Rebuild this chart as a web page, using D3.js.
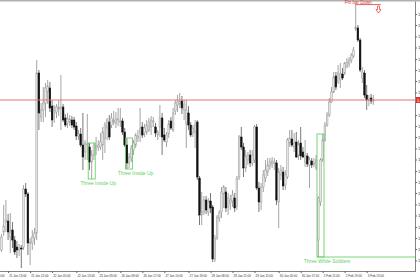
<!DOCTYPE html>
<html>
<head>
<meta charset="utf-8">
<script src="https://cdn.jsdelivr.net/npm/d3@7"></script>
<style>
  html, body { margin: 0; padding: 0; background: #fff; }
  svg { display: block; font-family: "Liberation Sans", Arial, sans-serif; }
</style>
</head>
<body>
<svg id="root" width="420" height="280"></svg>
<script>
"use strict";

// bars, oldest first: [open, high, low, close]
const bars = [
  [1.1100, 1.1132, 1.1096, 1.1126], [1.1136, 1.1190, 1.1128, 1.1148], [1.1156, 1.1200, 1.1136, 1.1160],
  [1.1158, 1.1172, 1.1120, 1.1136], [1.1126, 1.1174, 1.1094, 1.1136], [1.1140, 1.1156, 1.1104, 1.1120],
  [1.1120, 1.1128, 1.1090, 1.1096], [1.1106, 1.1118, 1.1084, 1.1100], [1.1100, 1.1112, 1.1088, 1.1104],
  [1.1104, 1.1110, 1.1064, 1.1102], [1.1106, 1.1230, 1.1100, 1.1222], [1.1222, 1.1234, 1.1206, 1.1212],
  [1.1212, 1.1216, 1.1090, 1.1114], [1.1114, 1.1124, 1.1070, 1.1116], [1.1114, 1.1140, 1.1100, 1.1126],
  [1.1124, 1.1144, 1.1110, 1.1134], [1.1134, 1.1480, 1.1120, 1.1454], [1.1454, 1.1460, 1.1340, 1.1374],
  [1.1366, 1.1394, 1.1356, 1.1380], [1.1380, 1.1426, 1.1356, 1.1394], [1.1394, 1.1434, 1.1366, 1.1424],
  [1.1416, 1.1440, 1.1392, 1.1428], [1.1424, 1.1436, 1.1376, 1.1384], [1.1388, 1.1400, 1.1346, 1.1360],
  [1.1374, 1.1390, 1.1354, 1.1378], [1.1376, 1.1392, 1.1364, 1.1386], [1.1382, 1.1400, 1.1368, 1.1386],
  [1.1382, 1.1450, 1.1340, 1.1386], [1.1386, 1.1392, 1.1356, 1.1360], [1.1364, 1.1372, 1.1346, 1.1350],
  [1.1354, 1.1374, 1.1344, 1.1362], [1.1356, 1.1370, 1.1348, 1.1362], [1.1360, 1.1368, 1.1344, 1.1350],
  [1.1360, 1.1366, 1.1340, 1.1346], [1.1348, 1.1356, 1.1320, 1.1328], [1.1328, 1.1340, 1.1320, 1.1332],
  [1.1332, 1.1344, 1.1306, 1.1310], [1.1310, 1.1374, 1.1260, 1.1286], [1.1296, 1.1320, 1.1280, 1.1314],
  [1.1310, 1.1372, 1.1280, 1.1312], [1.1306, 1.1314, 1.1260, 1.1276], [1.1276, 1.1300, 1.1242, 1.1290],
  [1.1290, 1.1314, 1.1280, 1.1310], [1.1304, 1.1326, 1.1290, 1.1308], [1.1306, 1.1320, 1.1298, 1.1310],
  [1.1306, 1.1334, 1.1300, 1.1316], [1.1310, 1.1346, 1.1280, 1.1336], [1.1324, 1.1356, 1.1294, 1.1350],
  [1.1344, 1.1364, 1.1320, 1.1360], [1.1356, 1.1370, 1.1320, 1.1326], [1.1350, 1.1374, 1.1344, 1.1364],
  [1.1356, 1.1378, 1.1350, 1.1360], [1.1354, 1.1376, 1.1344, 1.1362], [1.1360, 1.1384, 1.1348, 1.1362],
  [1.1356, 1.1384, 1.1346, 1.1358], [1.1358, 1.1364, 1.1330, 1.1336], [1.1336, 1.1344, 1.1306, 1.1310],
  [1.1310, 1.1324, 1.1262, 1.1274], [1.1274, 1.1294, 1.1264, 1.1286], [1.1284, 1.1310, 1.1276, 1.1304],
  [1.1300, 1.1320, 1.1290, 1.1314], [1.1310, 1.1334, 1.1304, 1.1330], [1.1324, 1.1340, 1.1316, 1.1328],
  [1.1334, 1.1384, 1.1316, 1.1344], [1.1346, 1.1356, 1.1324, 1.1330], [1.1334, 1.1352, 1.1326, 1.1344],
  [1.1336, 1.1360, 1.1330, 1.1350], [1.1340, 1.1364, 1.1336, 1.1356], [1.1346, 1.1368, 1.1330, 1.1360],
  [1.1356, 1.1366, 1.1346, 1.1358], [1.1346, 1.1354, 1.1326, 1.1334], [1.1330, 1.1340, 1.1320, 1.1336],
  [1.1346, 1.1390, 1.1326, 1.1364], [1.1364, 1.1374, 1.1290, 1.1326], [1.1330, 1.1344, 1.1316, 1.1320],
  [1.1316, 1.1336, 1.1306, 1.1330], [1.1332, 1.1360, 1.1324, 1.1352], [1.1358, 1.1366, 1.1340, 1.1344],
  [1.1340, 1.1384, 1.1336, 1.1374], [1.1378, 1.1400, 1.1370, 1.1394], [1.1390, 1.1410, 1.1376, 1.1396],
  [1.1392, 1.1414, 1.1384, 1.1398], [1.1398, 1.1408, 1.1372, 1.1384], [1.1380, 1.1400, 1.1360, 1.1392],
  [1.1354, 1.1400, 1.1304, 1.1380], [1.1374, 1.1388, 1.1340, 1.1350], [1.1350, 1.1356, 1.1326, 1.1330],
  [1.1334, 1.1350, 1.1326, 1.1344], [1.1336, 1.1360, 1.1304, 1.1350], [1.1356, 1.1360, 1.1240, 1.1246],
  [1.1244, 1.1248, 1.1150, 1.1170], [1.1170, 1.1216, 1.1150, 1.1176], [1.1176, 1.1208, 1.1170, 1.1200],
  [1.1200, 1.1208, 1.1172, 1.1180], [1.1176, 1.1204, 1.1168, 1.1196], [1.1198, 1.1214, 1.1174, 1.1184],
  [1.1186, 1.1190, 1.1076, 1.1082], [1.1082, 1.1130, 1.1076, 1.1124], [1.1124, 1.1170, 1.1120, 1.1166],
  [1.1164, 1.1180, 1.1156, 1.1174], [1.1176, 1.1226, 1.1164, 1.1216], [1.1212, 1.1230, 1.1184, 1.1226],
  [1.1216, 1.1226, 1.1176, 1.1184], [1.1186, 1.1214, 1.1170, 1.1204], [1.1194, 1.1210, 1.1180, 1.1200],
  [1.1198, 1.1220, 1.1186, 1.1210], [1.1204, 1.1214, 1.1176, 1.1184], [1.1188, 1.1248, 1.1180, 1.1244],
  [1.1246, 1.1330, 1.1240, 1.1326], [1.1326, 1.1346, 1.1300, 1.1306], [1.1306, 1.1314, 1.1246, 1.1264],
  [1.1264, 1.1300, 1.1256, 1.1288], [1.1280, 1.1296, 1.1270, 1.1290], [1.1290, 1.1300, 1.1266, 1.1274],
  [1.1274, 1.1300, 1.1268, 1.1290], [1.1280, 1.1350, 1.1274, 1.1346], [1.1346, 1.1352, 1.1220, 1.1224],
  [1.1224, 1.1236, 1.1176, 1.1196], [1.1196, 1.1234, 1.1180, 1.1226], [1.1226, 1.1260, 1.1216, 1.1250],
  [1.1244, 1.1280, 1.1236, 1.1260], [1.1256, 1.1284, 1.1248, 1.1270], [1.1268, 1.1284, 1.1260, 1.1276],
  [1.1272, 1.1286, 1.1264, 1.1278], [1.1274, 1.1284, 1.1260, 1.1276], [1.1274, 1.1280, 1.1190, 1.1200],
  [1.1196, 1.1264, 1.1144, 1.1256], [1.1250, 1.1270, 1.1240, 1.1260], [1.1256, 1.1266, 1.1220, 1.1228],
  [1.1230, 1.1260, 1.1220, 1.1250], [1.1246, 1.1324, 1.1242, 1.1320], [1.1314, 1.1340, 1.1306, 1.1324],
  [1.1322, 1.1340, 1.1306, 1.1310], [1.1306, 1.1334, 1.1296, 1.1314], [1.1316, 1.1336, 1.1284, 1.1286],
  [1.1290, 1.1320, 1.1280, 1.1310], [1.1314, 1.1346, 1.1280, 1.1288], [1.1296, 1.1306, 1.1284, 1.1286],
  [1.1276, 1.1320, 1.1266, 1.1290], [1.1288, 1.1294, 1.1266, 1.1272], [1.1270, 1.1286, 1.1224, 1.1280],
  [1.1278, 1.1284, 1.1264, 1.1270], [1.1272, 1.1284, 1.1266, 1.1274], [1.1264, 1.1290, 1.1260, 1.1280],
  [1.1120, 1.1208, 1.1086, 1.1204], [1.1196, 1.1284, 1.1188, 1.1280], [1.1280, 1.1332, 1.1276, 1.1320],
  [1.1320, 1.1356, 1.1316, 1.1350], [1.1350, 1.1376, 1.1346, 1.1370], [1.1370, 1.1404, 1.1366, 1.1396],
  [1.1396, 1.1426, 1.1394, 1.1416], [1.1416, 1.1456, 1.1414, 1.1446], [1.1448, 1.1456, 1.1420, 1.1426],
  [1.1436, 1.1470, 1.1432, 1.1454], [1.1440, 1.1474, 1.1424, 1.1452], [1.1452, 1.1464, 1.1440, 1.1444],
  [1.1454, 1.1476, 1.1450, 1.1474], [1.1466, 1.1484, 1.1464, 1.1476], [1.1472, 1.1486, 1.1466, 1.1480],
  [1.1480, 1.1494, 1.1474, 1.1490], [1.1488, 1.1506, 1.1484, 1.1500], [1.1542, 1.1592, 1.1538, 1.1546],
  [1.1544, 1.1550, 1.1516, 1.1520], [1.1520, 1.1524, 1.1456, 1.1460], [1.1444, 1.1466, 1.1434, 1.1456],
  [1.1454, 1.1460, 1.1404, 1.1410], [1.1410, 1.1430, 1.1380, 1.1400], [1.1400, 1.1410, 1.1388, 1.1402],
  [1.1404, 1.1412, 1.1392, 1.1398], [1.1398, 1.1410, 1.1390, 1.1400],
];

// time axis: label text and the bar it sits on
const timeLabels = [
  "20 Jan 23:00", "21 Jan 13:00", "21 Jan 21:00", "22 Jan 05:00", "22 Jan 13:00", "23 Jan 09:00",
  "26 Jan 09:00", "26 Jan 17:00", "27 Jan 10:00", "27 Jan 19:00", "28 Jan 08:00", "28 Jan 21:00",
  "29 Jan 15:00", "30 Jan 05:00", "30 Jan 17:00", "2 Feb 11:00", "2 Feb 19:00", "3 Feb 13:00",
];
const timeLabelBars = [-7, 3, 13, 23, 34, 44, 54, 64, 74, 85, 95, 105, 115, 126, 136, 146, 156, 166];

// price axis labels
const priceTicks = [
  1.1572, 1.1550, 1.1527, 1.1505, 1.1482, 1.1460, 1.1438, 1.1415, 1.1370, 1.1348, 1.1326,
  1.1303, 1.1281, 1.1258, 1.1236, 1.1214, 1.1191, 1.1169, 1.1146, 1.1124, 1.1102, 1.1079,
];

// horizontal level
const levelPrice = 1.1400;

// candle patterns
const patternNames = ["Three Inside Up", "Three Inside Up", "Three White Soldiers"];
const patternStart = [40, 57, 144];
const patternEnd = [42, 59, 146];
const patternExtend = [false, false, true];

// pin bar mark
const pinBarIndex = 161;
const pinBarText = "Pin bar Down";

const plotRight = 415;
const plotBottom = 271;
const bodyWidth = 1.7;
const green = "#55cc55";
const red = "#e03434";

const svg = d3.select("#root");

const xScale = d3.scaleLinear().domain([0, bars.length - 1]).range([1.5, 373.3]);
const yScale = d3.scaleLinear().domain([1.1058, 1.16]).range([plotBottom, 0]);

drawFrame();
drawCandles();
drawLevel();
drawPatterns();
drawPinBar();
drawAxes();

function drawFrame() {
  svg.append("rect").attr("width", 420).attr("height", 280).attr("fill", "#fff");
  svg.append("rect").attr("width", 420).attr("height", 1.5).attr("fill", "#b0b0b0");

  svg.append("clipPath").attr("id", "plotClip")
    .append("rect")
    .attr("x", 0).attr("y", 1.5)
    .attr("width", plotRight).attr("height", plotBottom - 1.5);
}

function drawCandles() {
  const g = svg.append("g").attr("clip-path", "url(#plotClip)");
  const isBull = (d) => d[3] <= d[0] ? false : true;

  g.selectAll("line.wick")
    .data(bars)
    .join("line")
    .attr("class", "wick")
    .attr("x1", (d, i) => xScale(i))
    .attr("x2", (d, i) => xScale(i))
    .attr("y1", (d) => yScale(d[1]))
    .attr("y2", (d) => yScale(d[2]))
    .attr("stroke", (d) => (isBull(d) ? "#8e8e8e" : "#555"))
    .attr("stroke-width", 0.8);

  g.selectAll("rect.body")
    .data(bars)
    .join("rect")
    .attr("class", "body")
    .attr("x", (d, i) => xScale(i) - bodyWidth / 2)
    .attr("width", bodyWidth)
    .attr("y", (d) => yScale(Math.max(d[0], d[3])))
    .attr("height", (d) => Math.max(0.8, Math.abs(yScale(d[0]) - yScale(d[3]))))
    .attr("fill", (d) => (isBull(d) ? "#e6e6e6" : "#111"))
    .attr("stroke", (d) => (isBull(d) ? "#9a9a9a" : "#111"))
    .attr("stroke-width", 0.5);
}

function drawLevel() {
  const y = yScale(levelPrice);
  svg.append("line")
    .attr("x1", 0).attr("x2", plotRight)
    .attr("y1", y).attr("y2", y)
    .attr("stroke", "#e47474")
    .attr("stroke-width", 1);
}

function drawPatterns() {
  const g = svg.append("g");
  patternNames.forEach((name, k) => {
    const slice = bars.slice(patternStart[k], patternEnd[k] + 1);
    const top = yScale(d3.max(slice, (d) => d[1]));
    const bottom = yScale(d3.min(slice, (d) => d[2]));
    const left = xScale(patternStart[k]) - 1.3;
    const right = xScale(patternEnd[k]) + 1.3;

    g.append("rect")
      .attr("x", left).attr("y", top)
      .attr("width", right - left).attr("height", bottom - top)
      .attr("fill", "none")
      .attr("stroke", green)
      .attr("stroke-width", 0.8);

    if (patternExtend[k]) {
      g.append("line")
        .attr("x1", left).attr("x2", plotRight)
        .attr("y1", bottom).attr("y2", bottom)
        .attr("stroke", green)
        .attr("stroke-width", 0.8);
    }

    g.append("text")
      .attr("x", (left + right) / 2 + 6.5)
      .attr("y", bottom + 5.5)
      .attr("text-anchor", "middle")
      .attr("font-size", "5px")
      .attr("fill", "#5fd05f")
      .text(name);
  });
}

function drawPinBar() {
  const bar = bars[pinBarIndex];
  const x = xScale(pinBarIndex);
  const y = yScale(bar[1]) + 0.6;
  const g = svg.append("g");

  g.append("text")
    .attr("x", x + 2.5)
    .attr("y", 4)
    .attr("text-anchor", "middle")
    .attr("font-size", "4.5px")
    .attr("fill", red)
    .text(pinBarText);

  g.append("line")
    .attr("x1", x).attr("x2", x + 25)
    .attr("y1", y).attr("y2", y)
    .attr("stroke", red)
    .attr("stroke-width", 0.8);

  // hollow arrow pointing down
  const cx = x + 22.8;
  const arrow = [
    [cx - 1, y + 1.5], [cx + 1, y + 1.5], [cx + 1, y + 5], [cx + 2.5, y + 5],
    [cx, y + 8.5], [cx - 2.5, y + 5], [cx - 1, y + 5],
  ];
  g.append("path")
    .attr("d", d3.line()(arrow) + "Z")
    .attr("fill", "#fff")
    .attr("stroke", red)
    .attr("stroke-width", 0.7);
}

function drawAxes() {
  // price scale on the right
  const yAxis = svg.append("g")
    .attr("transform", `translate(${plotRight},0)`)
    .call(
      d3.axisRight(yScale)
        .tickValues(priceTicks)
        .tickSize(2)
        .tickPadding(1)
        .tickFormat(d3.format(".4f"))
    );
  yAxis.select(".domain").remove();
  yAxis.selectAll("line").attr("stroke", "#666");
  yAxis.selectAll("text").attr("font-size", "4px").attr("fill", "#333").attr("font-family", null);

  svg.append("line")
    .attr("x1", plotRight + 0.5).attr("x2", plotRight + 0.5)
    .attr("y1", 1.5).attr("y2", plotBottom)
    .attr("stroke", "#666")
    .attr("stroke-width", 0.8);

  // current level tag on the price scale
  const ly = yScale(levelPrice);
  svg.append("rect")
    .attr("x", plotRight + 1).attr("y", ly - 3)
    .attr("width", 6).attr("height", 6)
    .attr("fill", red);
  svg.append("text")
    .attr("x", plotRight + 2).attr("y", ly + 1.5)
    .attr("font-size", "4px")
    .attr("fill", "#fff")
    .text(d3.format(".4f")(levelPrice));

  // time scale at the bottom
  const xAxis = svg.append("g")
    .attr("transform", `translate(0,${plotBottom})`)
    .call(
      d3.axisBottom(xScale)
        .tickValues(timeLabelBars)
        .tickSize(2)
        .tickPadding(2)
        .tickFormat((d, i) => timeLabels[i])
    );
  xAxis.select(".domain").remove();
  xAxis.selectAll("line").attr("stroke", "#666");
  xAxis.selectAll("text")
    .attr("text-anchor", "start")
    .attr("x", 0.6)
    .attr("font-size", "3px")
    .attr("fill", "#333")
    .attr("font-family", null);

  svg.append("line")
    .attr("x1", 0).attr("x2", plotRight + 1)
    .attr("y1", plotBottom + 0.5).attr("y2", plotBottom + 0.5)
    .attr("stroke", "#666")
    .attr("stroke-width", 0.8);
}
</script>
</body>
</html>
